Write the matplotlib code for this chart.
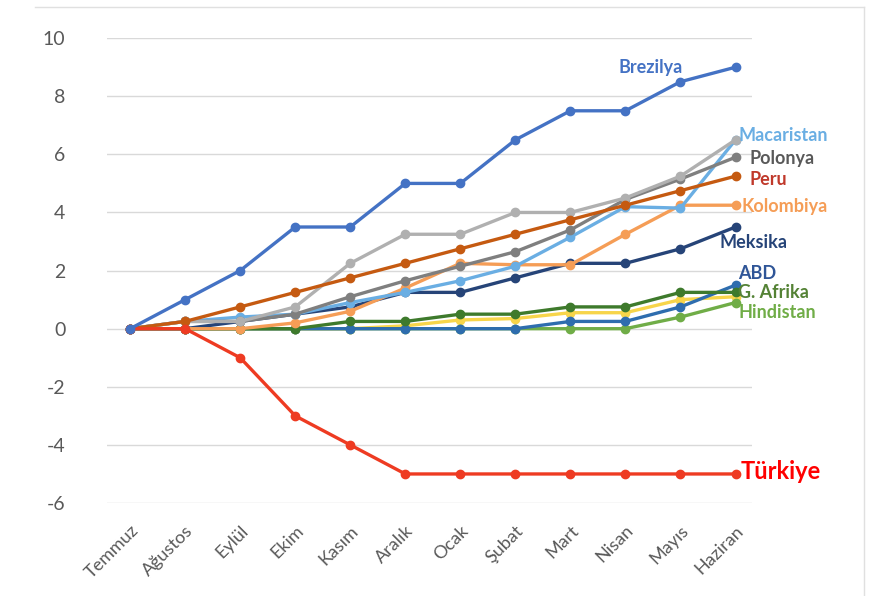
import numpy as np
import matplotlib.pyplot as plt
from matplotlib.lines import Line2D

plt.rcParams['font.family'] = ['Lato', 'DejaVu Sans']
plt.rcParams['axes.unicode_minus'] = False

# Aylar
aylar = ['Temmuz', 'Ağustos', 'Eylül', 'Ekim', 'Kasım', 'Aralık',
         'Ocak', 'Şubat', 'Mart', 'Nisan', 'Mayıs', 'Haziran']

# Seriler
brezilya = [0, 1, 2, 3.5, 3.5, 5, 5, 6.5, 7.5, 7.5, 8.5, 9]
turkiye = [0, 0, -1, -3, -4, -5, -5, -5, -5, -5, -5, -5]
gri_acik = [0, 0.25, 0.25, 0.75, 2.25, 3.25, 3.25, 4, 4, 4.5, 5.25, 6.5]
polonya = [0, 0.25, 0.25, 0.5, 1.1, 1.65, 2.15, 2.65, 3.4, 4.45, 5.15, 5.9]
peru = [0, 0.25, 0.75, 1.25, 1.75, 2.25, 2.75, 3.25, 3.75, 4.25, 4.75, 5.25]
macaristan = [0, 0.25, 0.4, 0.5, 0.9, 1.25, 1.65, 2.15, 3.15, 4.2, 4.15, 6.5]
kolombiya = [0, 0, 0, 0.2, 0.6, 1.4, 2.25, 2.2, 2.2, 3.25, 4.25, 4.25]
meksika = [0, 0, 0.25, 0.5, 0.75, 1.25, 1.25, 1.75, 2.25, 2.25, 2.75, 3.5]
abd = [0, 0, 0, 0, 0, 0, 0, 0, 0.25, 0.25, 0.75, 1.5]
g_afrika = [0, 0, 0, 0, 0.25, 0.25, 0.5, 0.5, 0.75, 0.75, 1.25, 1.25]
hindistan = [0, 0, 0, 0, 0, 0, 0, 0, 0, 0, 0.4, 0.9]
sari = [0, 0, 0, 0, 0, 0.1, 0.3, 0.35, 0.55, 0.55, 1.0, 1.1]

seriler = [
    (sari, '#F7D54A'),
    (hindistan, '#70AD47'),
    (abd, '#2E6DAE'),
    (g_afrika, '#3E7A2C'),
    (meksika, '#264478'),
    (kolombiya, '#F59D56'),
    (macaristan, '#6AAEE3'),
    (polonya, '#7F7F7F'),
    (gri_acik, '#B0B0B0'),
    (peru, '#C55A11'),
    (turkiye, '#EE3B22'),
    (brezilya, '#4472C4'),
]

fig = plt.figure(figsize=(8.8, 5.96), dpi=100)
ax = fig.add_axes([0.1216, 0.156, 0.733, 0.78])

x = np.arange(len(aylar))
for veri, renk in seriler:
    ax.plot(x, veri, color=renk, lw=2.4, marker='o', ms=6, zorder=3)

ax.set_xlim(-0.42, 11.3)
ax.set_ylim(-6, 10)
ax.set_yticks(np.arange(-6, 11, 2))
ax.grid(axis='y', color='#D9D9D9', lw=1)
ax.set_axisbelow(True)
for s in ax.spines.values():
    s.set_visible(False)
ax.tick_params(length=0, colors='#595959', labelsize=14)
ax.tick_params(axis='y', pad=30)
ax.tick_params(axis='x', pad=14)
ax.set_xticks(x)
ax.set_xticklabels(aylar, rotation=45, ha='right', rotation_mode='anchor', fontsize=13)

# Etiketler
etiketler = [
    ('Brezilya', 9.45, 9.0, '#4472C4', 'center', 13),
    ('Macaristan', 11.05, 6.65, '#6AAEE3', 'left', 13),
    ('Polonya', 11.25, 5.85, '#595959', 'left', 13),
    ('Peru', 11.25, 5.15, '#C0392B', 'left', 13),
    ('Kolombiya', 11.1, 4.2, '#F59D56', 'left', 13),
    ('Meksika', 10.7, 2.95, '#264478', 'left', 13),
    ('ABD', 11.05, 1.9, '#2F5597', 'left', 13),
    ('G. Afrika', 11.05, 1.25, '#548235', 'left', 13),
    ('Hindistan', 11.05, 0.55, '#70AD47', 'left', 13),
    ('Türkiye', 11.1, -4.9, '#FF0000', 'left', 17),
]
for metin, xi, yi, renk, ha, fs in etiketler:
    ax.text(xi, yi, metin, color=renk, fontsize=fs, fontweight='bold',
            ha=ha, va='center', clip_on=False, zorder=5)

fig.add_artist(Line2D([0.982, 0.982], [0, 0.988], color='#E0E0E0', lw=1))
fig.add_artist(Line2D([0.04, 0.982], [0.988, 0.988], color='#E0E0E0', lw=1))

fig.savefig('out.png', dpi=100)
